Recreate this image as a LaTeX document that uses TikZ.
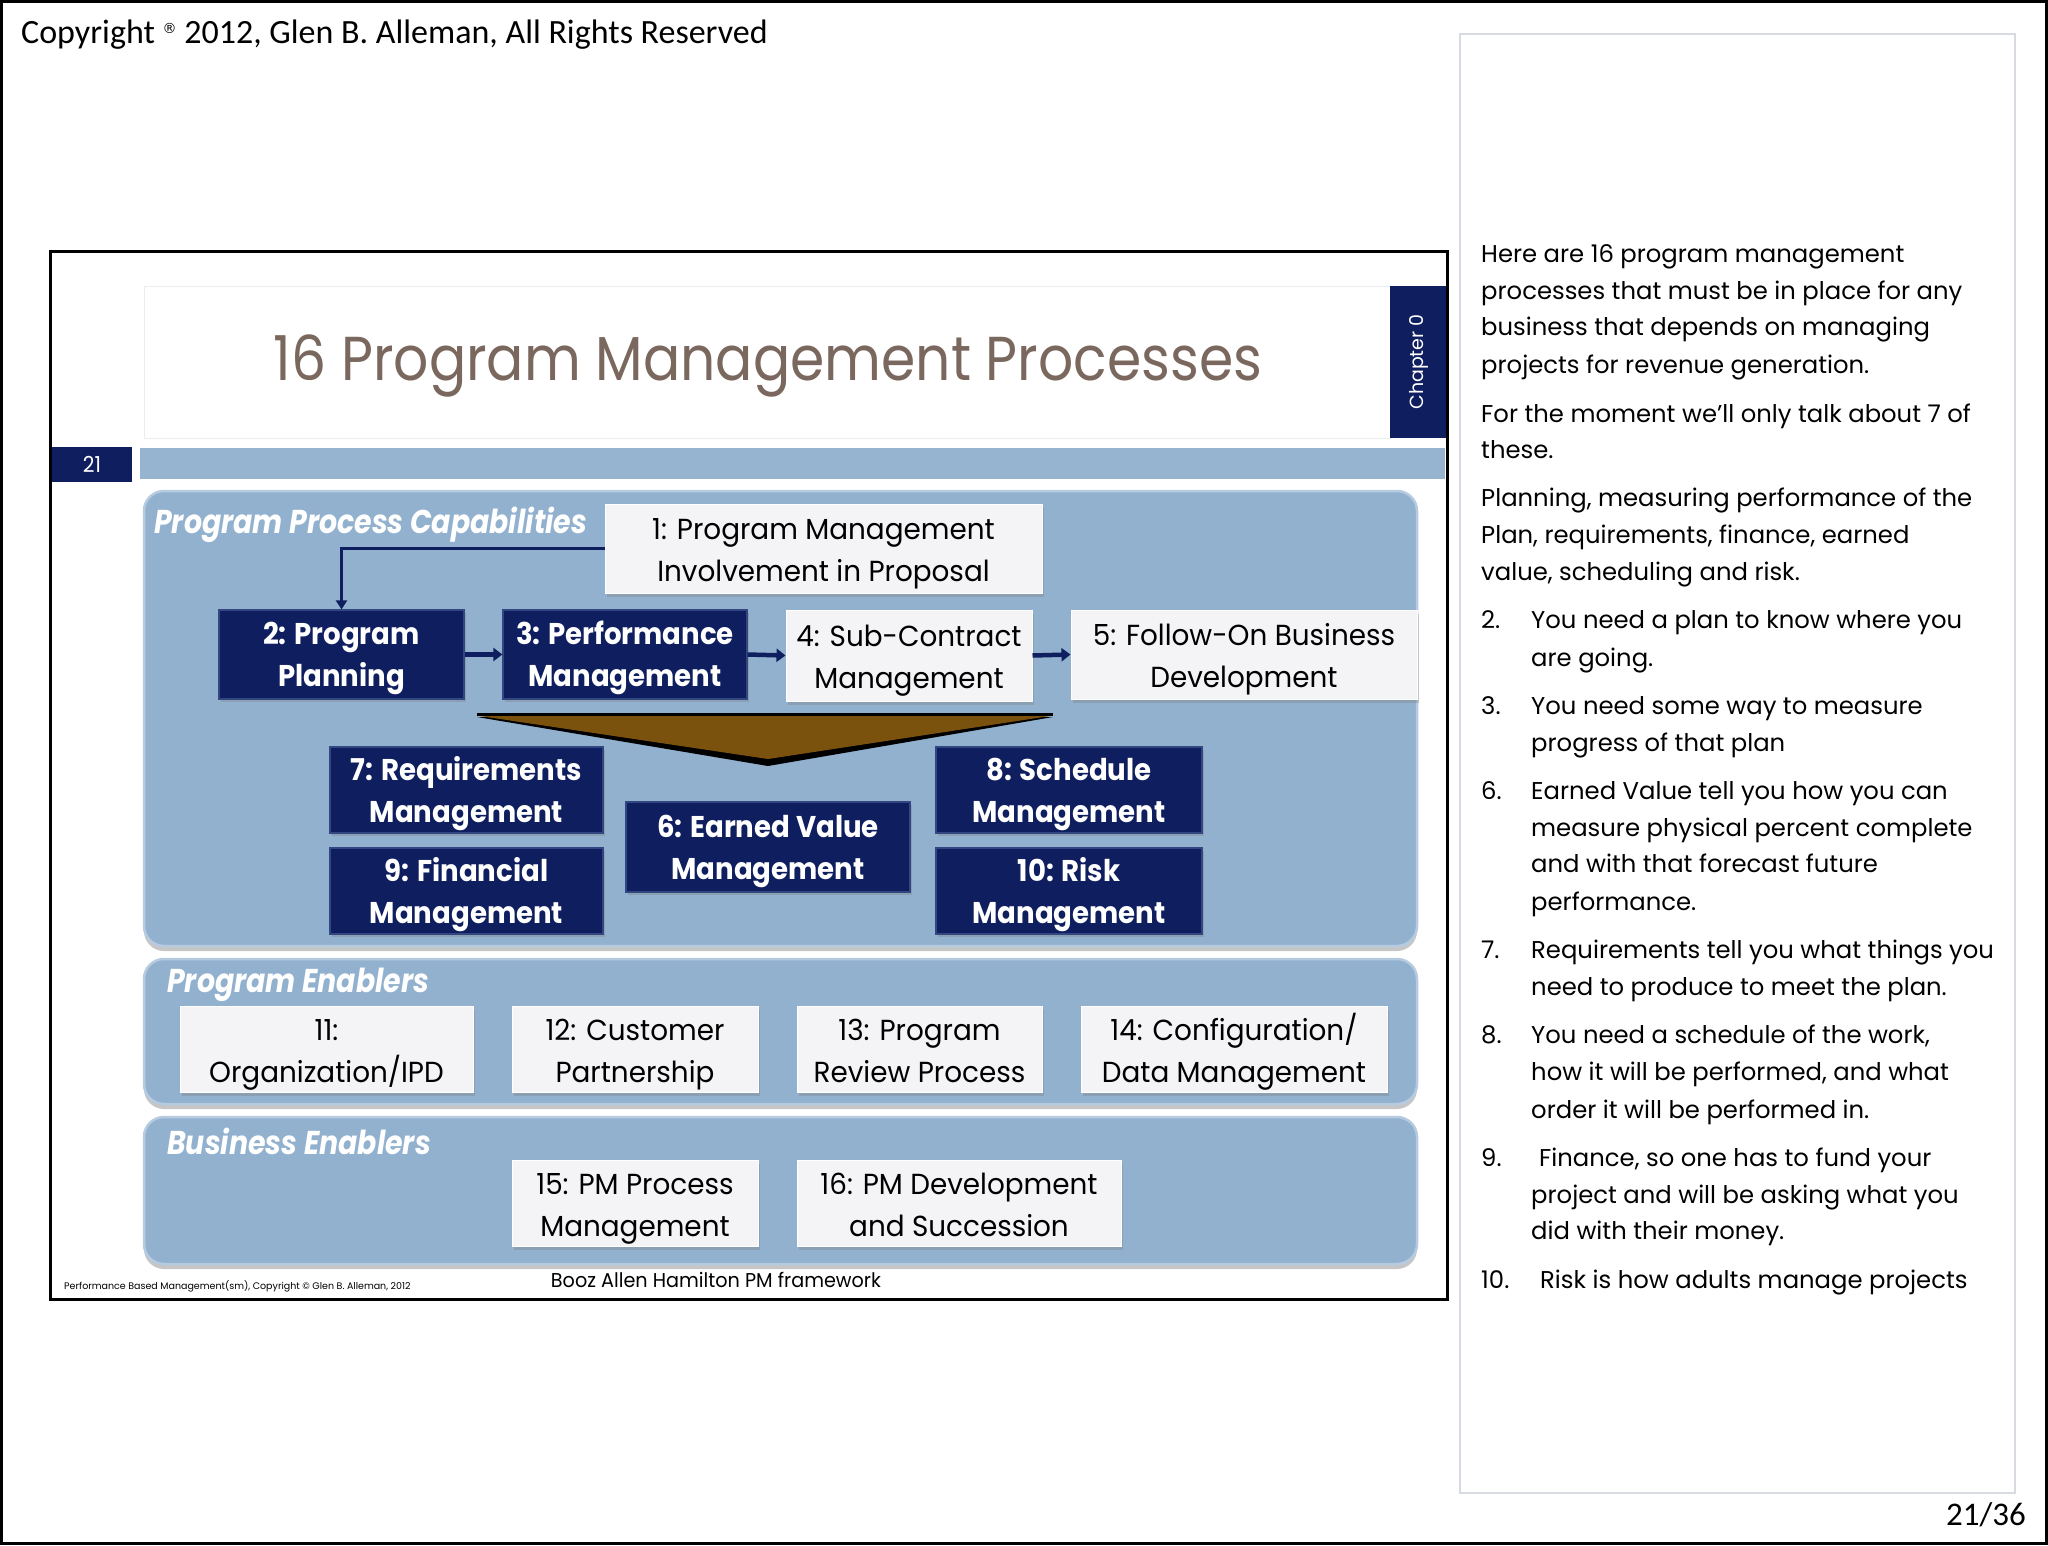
\documentclass[tikz,border=0pt]{standalone}
\usepackage{fontspec}
\setmainfont{Carlito}
\newfontfamily\geo{Poppins}
\newfontfamily\dejav{DejaVu Sans}
\newfontfamily\geot[FakeStretch=0.89]{Poppins}
\newfontfamily\geoc[FakeStretch=0.92]{Poppins}
\newfontfamily\geoi[FakeStretch=0.86]{Poppins}
\newfontfamily\geor[FakeStretch=0.96]{Poppins}
\usetikzlibrary{shadows,arrows.meta}
\definecolor{navyc}{RGB}{14,30,94}
\definecolor{navyb}{RGB}{50,70,130}
\definecolor{panelc}{RGB}{146,177,206}
\definecolor{panelb}{RGB}{182,203,224}
\definecolor{barc}{RGB}{150,180,208}
\definecolor{wboxc}{RGB}{244,244,246}
\definecolor{titlec}{RGB}{122,104,94}
\definecolor{brownc}{RGB}{122,82,14}
\definecolor{notesb}{RGB}{215,218,224}
\tikzset{
  navybox/.style={rectangle, fill=navyc, draw=navyb, line width=1.2pt, inner sep=0pt,
    drop shadow={shadow xshift=2pt, shadow yshift=-3pt, opacity=0.35}},
  whitebox/.style={rectangle, fill=wboxc, draw=white, line width=1pt, inner sep=0pt,
    drop shadow={shadow xshift=2pt, shadow yshift=-4pt, opacity=0.35}},
  navytext/.style={text=white, font=\geoc\bfseries\fontsize{30}{42}\selectfont, align=center,
    inner sep=0pt, yshift=-3pt},
  whitetext/.style={text=black, font=\geor\fontsize{29}{42}\selectfont, align=center,
    inner sep=0pt, yshift=-4pt},
  panel/.style={rectangle, rounded corners=20pt, fill=panelc, draw=panelb, line width=2.5pt,
    drop shadow={shadow xshift=0pt, shadow yshift=-5pt, opacity=0.45}},
  paneltitle/.style={anchor=mid west, text=white, inner sep=0pt,
    font=\geoi\bfseries\itshape\fontsize{33}{38}\selectfont},
  note/.style={anchor=mid west, inner sep=0pt, font=\geo\fontsize{24.3}{30}\selectfont},
  flow/.style={draw=navyc, line width=3pt, -{Triangle[length=9pt,width=11pt]}},
  flowb/.style={draw=navyc, line width=4.5pt, -{Triangle[length=9pt,width=13pt]}},
}
% \pbox{kind}{name}{x}{y}{w}{h}{line 1}{line 2}
\newcommand\pbox[8]{%
  \node[#1box, minimum width=#5pt, minimum height=#6pt] (#2) at (#3,#4) {};
  \node[#1text] (#2t) at (#2.center) {\strut #7\\\strut #8};}
\begin{document}
\begin{tikzpicture}[x=1pt,y=-1pt]
\useasboundingbox (0,0) rectangle (2048,1545);
% page
\draw[line width=3pt] (1.5,1.5) rectangle (2046.5,1543.5);
\node[anchor=mid west, inner sep=0pt, font=\fontsize{34}{38}\selectfont] (copy) at (21,41)
  {Copyright \raisebox{0.6ex}{\dejav\fontsize{14}{14}\selectfont ®} 2012, Glen B. Alleman, All Rights Reserved};
\node[anchor=mid east, inner sep=0pt, font=\fontsize{33}{36}\selectfont] (pnum) at (2026,1523) {21/36};
% notes panel
\node[rectangle, draw=notesb, line width=1.2pt, minimum width=555pt, minimum height=1459pt] (notes) at (1737.5,763.5) {};
% slide frame
\node[rectangle, draw=black, line width=3pt, minimum width=1397pt, minimum height=1048pt] (slide) at (748.5,775.5) {};
% title box
\node[rectangle, draw=notesb!50, fill=white, minimum width=1247pt, minimum height=152pt] (titlebox) at (767.5,362) {};
\node[inner sep=0pt, text=titlec, font=\geot\fontsize{62}{70}\selectfont] (title) at (768,366) {16 Program Management Processes};
\node[rectangle, fill=navyc, minimum width=56pt, minimum height=152pt] (chap) at (1418,362) {};
\node[rotate=90, text=white, inner sep=0pt, font=\geo\fontsize{19}{20}\selectfont] (chapt) at (1419,362) {Chapter 0};
\node[rectangle, fill=navyc, minimum width=80pt, minimum height=35pt, text=white, inner sep=0pt,
  font=\geoc\fontsize{22}{24}\selectfont] (num) at (92,464.5) {21};
\node[rectangle, fill=barc, minimum width=1305pt, minimum height=31pt] (bar) at (792.5,463.5) {};
% panels
\node[panel, minimum width=1273pt, minimum height=455pt] (p1) at (780.5,718.5) {};
\node[panel, minimum width=1273pt, minimum height=145pt] (p2) at (780.5,1031.5) {};
\node[panel, minimum width=1273pt, minimum height=147pt] (p3) at (780.5,1190.5) {};
\node[paneltitle] (t1) at (154,531) {Program Process Capabilities};
\node[paneltitle] (t2) at (167,990) {Program Enablers};
\node[paneltitle] (t3) at (167,1152) {Business Enablers};
% chevron
\fill[black] (477,717) -- (1053,717) -- (768,766) -- cycle;
\fill[brownc] (480,716) -- (1050,716) -- (768,759) -- cycle;
\draw[black, line width=3pt] (477,714) -- (1053,714);
% boxes
\pbox{white}{b1}{823.5}{548.5}{437}{89}{1: Program Management}{Involvement in Proposal}
\pbox{navy}{b2}{341.5}{654.5}{245}{89}{2: Program}{Planning}
\pbox{navy}{b3}{625}{654.5}{244}{89}{3: Performance}{Management}
\pbox{white}{b4}{909}{655.5}{246}{91}{4: Sub-Contract}{Management}
\pbox{white}{b5}{1244}{654.5}{346}{89}{5: Follow-On Business}{Development}
\pbox{navy}{b7}{466.5}{790}{273}{86}{7: Requirements}{Management}
\pbox{navy}{b9}{466.5}{891}{273}{86}{9: Financial}{Management}
\pbox{navy}{b6}{768}{847}{284}{90}{6: Earned Value}{Management}
\pbox{navy}{b8}{1069}{790}{266}{86}{8: Schedule}{Management}
\pbox{navy}{b10}{1069}{891}{266}{86}{10: Risk}{Management}
\pbox{white}{b11}{326.5}{1049}{293}{86}{11:}{Organization/IPD}
\pbox{white}{b12}{635}{1049}{246}{86}{12: Customer}{Partnership}
\pbox{white}{b13}{919.5}{1049}{245}{86}{13: Program}{Review Process}
\pbox{white}{b14}{1234}{1049}{306}{86}{14: Configuration/}{Data Management}
\pbox{white}{b15}{635}{1203}{246}{86}{15: PM Process}{Management}
\pbox{white}{b16}{959}{1203}{324}{86}{16: PM Development}{and Succession}
% connectors
\draw[flow] (b1.west) -| (b2.north);
\draw[flowb] (b2.east) -- (b3.west);
\draw[flowb] (b3.east) -- (b4.west);
\draw[flowb] (b4.east) -- (b5.west);
% footers
\node[inner sep=0pt, font=\geor\fontsize{20}{23}\selectfont] (booz) at (716,1280) {Booz Allen Hamilton PM framework};
\node[anchor=mid west, inner sep=0pt, font=\geo\fontsize{9.5}{12}\selectfont] (foot) at (64,1287) {Performance Based Management(sm), Copyright © Glen B. Alleman, 2012};
% notes text
\begin{scope}[shift={(0,7)}]
\node[note] (n1) at (1481,253.4) {Here are 16 program management};
\node[note] (n2) at (1481,290) {processes that must be in place for any};
\node[note] (n3) at (1481,326.5) {business that depends on managing};
\node[note] (n4) at (1481,364.4) {projects for revenue generation.};
\node[note] (n5) at (1481,412.7) {For the moment we’ll only talk about 7 of};
\node[note] (n6) at (1481,449.3) {these.};
\node[note] (n7) at (1481,497.6) {Planning, measuring performance of the};
\node[note] (n8) at (1481,534.2) {Plan, requirements, finance, earned};
\node[note] (n9) at (1481,570.7) {value, scheduling and risk.};
\node[note] (k2) at (1481,619) {2.};
\node[note] (n10) at (1531,619) {You need a plan to know where you};
\node[note] (n11) at (1531,657) {are going.};
\node[note] (k3) at (1481,705) {3.};
\node[note] (n12) at (1531,705) {You need some way to measure};
\node[note] (n13) at (1531,742) {progress of that plan};
\node[note] (k6) at (1481,790) {6.};
\node[note] (n14) at (1531,790) {Earned Value tell you how you can};
\node[note] (n15) at (1531,827) {measure physical percent complete};
\node[note] (n16) at (1531,863) {and with that forecast future};
\node[note] (n17) at (1531,901) {performance.};
\node[note] (k7) at (1481,949.5) {7.};
\node[note] (n18) at (1531,949.5) {Requirements tell you what things you};
\node[note] (n19) at (1531,986) {need to produce to meet the plan.};
\node[note] (k8) at (1481,1034) {8.};
\node[note] (n20) at (1531,1034) {You need a schedule of the work,};
\node[note] (n21) at (1531,1071) {how it will be performed, and what};
\node[note] (n22) at (1531,1109) {order it will be performed in.};
\node[note] (k9) at (1481,1157) {9.};
\node[note] (n23) at (1539,1157) {Finance, so one has to fund your};
\node[note] (n24) at (1531,1194) {project and will be asking what you};
\node[note] (n25) at (1531,1230) {did with their money.};
\node[note] (k10) at (1481,1279) {10.};
\node[note] (n26) at (1540,1279) {Risk is how adults manage projects};
\end{scope}
\end{tikzpicture}
\end{document}
